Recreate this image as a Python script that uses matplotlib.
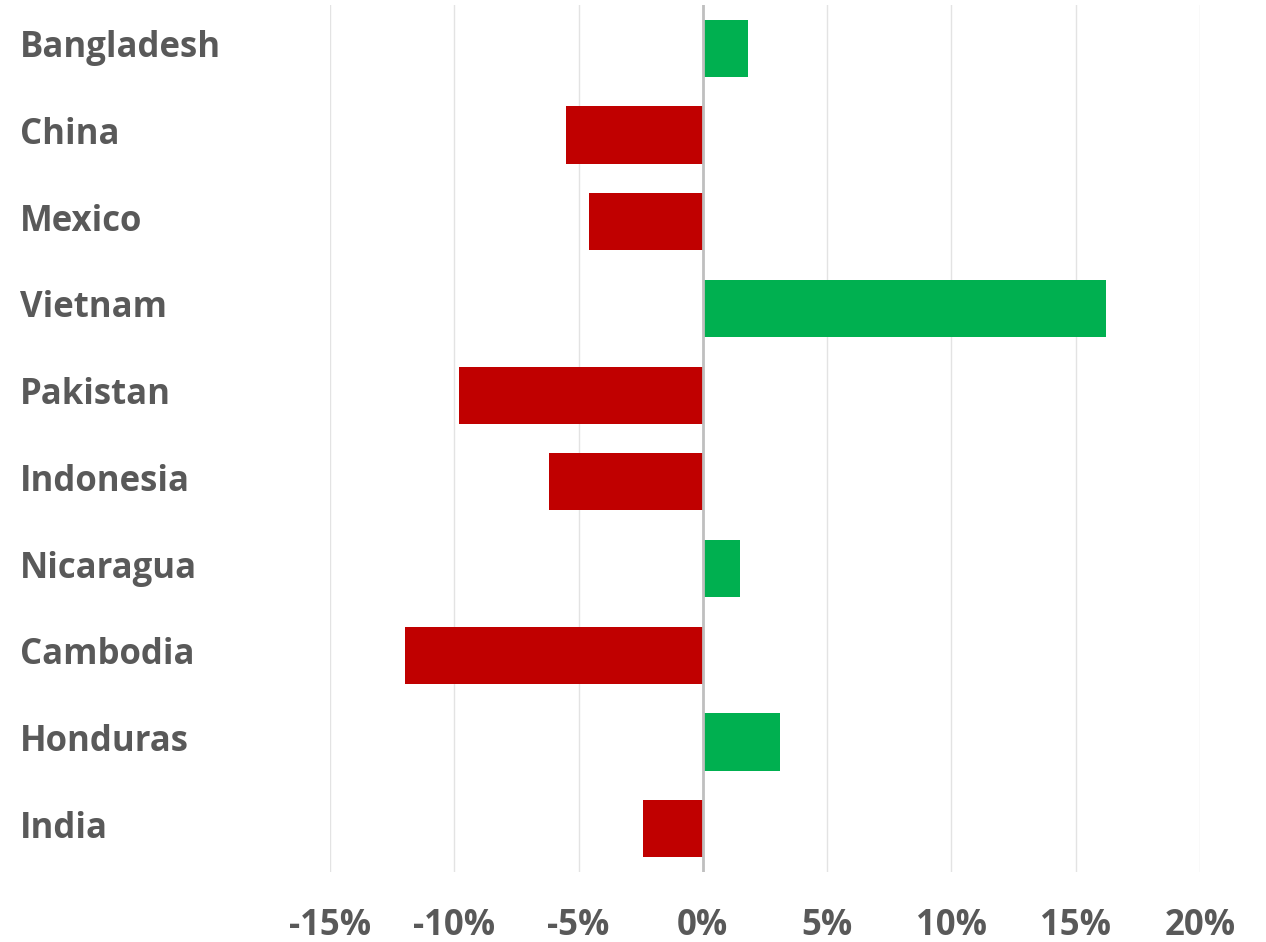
import numpy as np
import matplotlib.pyplot as plt
from matplotlib.ticker import FuncFormatter

# data (percent change)
countries = ["Bangladesh", "China", "Mexico", "Vietnam", "Pakistan",
             "Indonesia", "Nicaragua", "Cambodia", "Honduras", "India"]
changes = [1.8, -5.5, -4.6, 16.2, -9.8, -6.2, 1.5, -12.0, 3.1, -2.4]
x_ticks = [-15, -10, -5, 0, 5, 10, 15, 20]

pos_color = "#00B050"
neg_color = "#C00000"
text_color = "#595959"

plt.rcParams['font.family'] = ['Open Sans', 'DejaVu Sans']

fig = plt.figure(figsize=(12.66, 9.42), dpi=100)
ax = fig.add_axes([330 / 1266, 70 / 942, 870 / 1266, 867 / 942])

y = np.arange(len(countries))
colors = [pos_color if v >= 0 else neg_color for v in changes]
ax.barh(y, changes, height=0.66, color=colors, zorder=2)

ax.set_xlim(-15, 20)
ax.set_ylim(len(countries) - 0.5, -0.5)
ax.set_xticks(x_ticks)
ax.xaxis.set_major_formatter(FuncFormatter(lambda v, p: f"{v:.0f}%"))
ax.grid(axis='x', color="#E3E3E3", linewidth=1, zorder=0)
ax.axvline(0, color="#BFBFBF", linewidth=2, zorder=3)

for s in ax.spines.values():
    s.set_visible(False)

ax.tick_params(axis='x', length=0, pad=26, labelsize=25, labelcolor=text_color)
ax.tick_params(axis='y', length=0, pad=223, labelsize=25, labelcolor=text_color)
ax.set_yticks(y)
ax.set_yticklabels(countries, ha='left', va='center')
for lbl in ax.get_xticklabels() + ax.get_yticklabels():
    lbl.set_fontweight('bold')

fig.savefig("out.png", dpi=100, facecolor="white")
